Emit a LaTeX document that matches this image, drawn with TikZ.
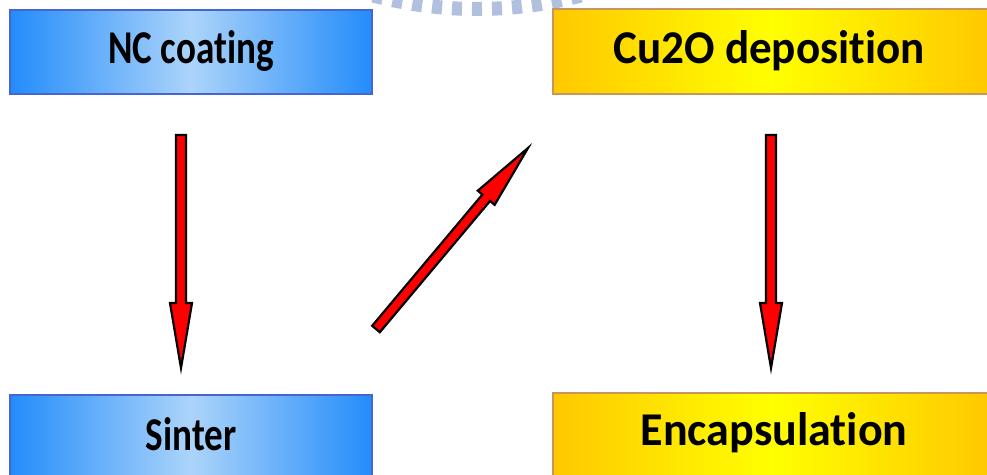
\documentclass[tikz,border=0pt]{standalone}
\usepackage{fontspec}
\setmainfont{Carlito}[Ligatures={NoCommon}]
\usetikzlibrary{calc}
\definecolor{boxblue}{RGB}{35,140,250}
\definecolor{boxbluemid}{RGB}{172,212,250}
\definecolor{boxblueborder}{RGB}{70,100,210}
\definecolor{boxyel}{RGB}{255,200,0}
\definecolor{boxyelmid}{RGB}{255,255,0}
\definecolor{boxyelborder}{RGB}{200,150,90}
\definecolor{arcblue}{RGB}{178,192,224}
\definecolor{arrred}{RGB}{255,0,0}
\tikzset{
  bluebox/.style={draw=boxblueborder, line width=1.5pt, left color=boxblue, right color=boxblue, middle color=boxbluemid},
  yelbox/.style={draw=boxyelborder, line width=1.5pt, left color=boxyel, right color=boxyel, middle color=boxyelmid},
  boxtext/.style={font=\fontsize{47}{50}\selectfont\bfseries, text=black, inner sep=0pt},
  fatarrowstyle/.style={draw=black, fill=arrred, line width=2.2pt, line join=miter},
  arcstyle/.style={draw=arcblue, line width=14pt, dash pattern=on 10pt off 10pt, dash phase=5pt}
}
\newcommand{\sw}{5pt}
\newcommand{\hw}{11pt}
\newcommand{\hl}{65pt}
\newcommand{\myfatarrow}[2]{%
  \coordinate (hb) at ($(#2)!\hl!(#1)$);
  \draw[fatarrowstyle] ($(#1)!\sw!-90:(#2)$) -- ($(hb)!\sw!-90:(#2)$) -- ($(hb)!\hw!-90:(#2)$) -- (#2) -- ($(hb)!\hw!90:(#2)$) -- ($(hb)!\sw!90:(#2)$) -- ($(#1)!\sw!90:(#2)$) -- cycle;}
\begin{document}
\begin{tikzpicture}[x=1pt,y=-1pt]
\clip (0,0) rectangle (987,474);
\fill[white] (0,0) rectangle (987,474);
% dashed arc at top
\coordinate (arcbot) at (477,9);
\draw[arcstyle] (arcbot) arc[start angle=90, end angle=72, radius=407];
\draw[arcstyle] (arcbot) arc[start angle=90, end angle=108, radius=407];
% boxes
\path[bluebox] (10,10) rectangle (372,94);
\node[boxtext] (nc) at (191,51) {\scalebox{0.79}[1]{NC coating}};
\path[yelbox] (553,9) rectangle (990,94);
\node[boxtext] (cu) at (769,51) {\scalebox{0.96}[1]{Cu2O deposition}};
\path[bluebox] (10,395) rectangle (372,480);
\node[boxtext] (si) at (191,434) {\scalebox{0.79}[1]{Sinter}};
\path[yelbox] (553,393) rectangle (990,480);
\node[boxtext] (en) at (774,433) {\scalebox{0.98}[1]{Encapsulation}};
% arrows
\coordinate (a1t) at (181,135);
\coordinate (a1h) at (181,368);
\coordinate (a2t) at (376,329);
\coordinate (a2h) at (528,148);
\coordinate (a3t) at (771,135);
\coordinate (a3h) at (771,368);
\myfatarrow{a1t}{a1h}
\myfatarrow{a2t}{a2h}
\myfatarrow{a3t}{a3h}
\end{tikzpicture}
\end{document}
